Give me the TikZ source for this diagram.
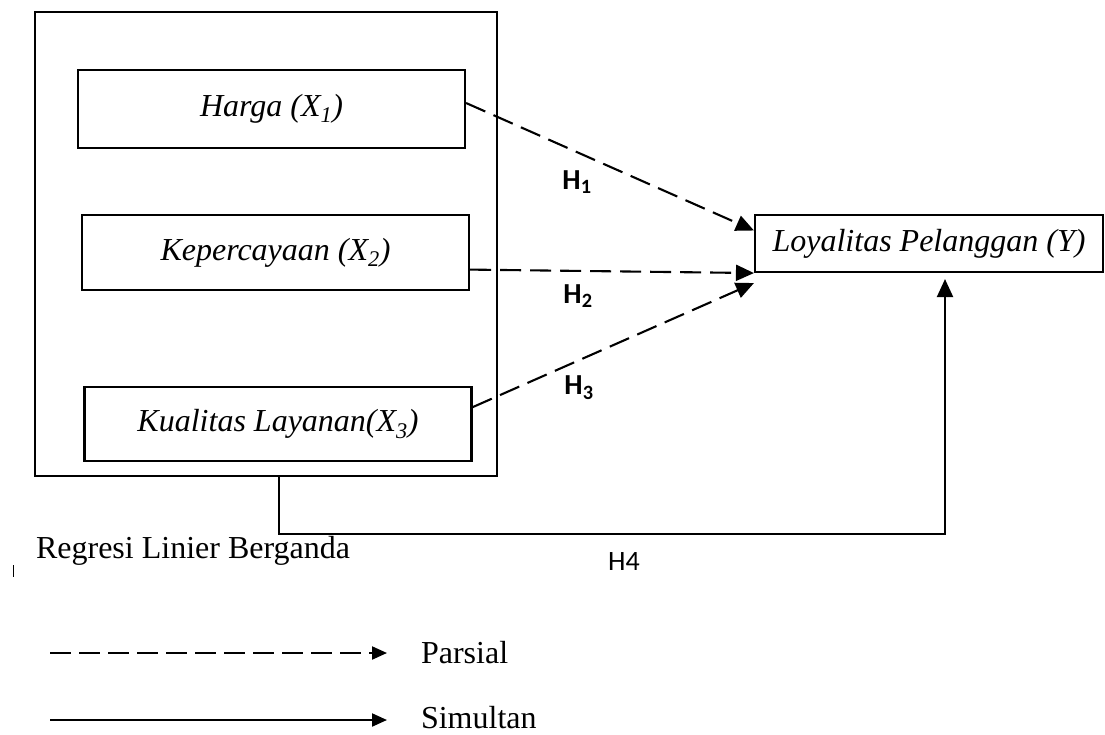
\documentclass[tikz,border=0pt]{standalone}
\usepackage{fontspec}
\setmainfont{Liberation Serif}
\newfontfamily\hfont{Carlito}
\usetikzlibrary{positioning,arrows.meta}

\begin{document}
\begin{tikzpicture}[x=1pt,y=-1pt,line width=2.1pt,
  every node/.style={font=\fontsize{32}{38}\selectfont,inner sep=0pt},
  st/.style={draw,line width=2.1pt,minimum width=387pt,minimum height=76pt,font=\fontsize{32}{38}\selectfont\itshape},
  hl/.style={font=\hfont\bfseries\fontsize{29}{32}\selectfont},
  par/.style={dash pattern=on 21pt off 9pt,-{Triangle[length=18pt,width=16pt]}},
  sim/.style={-{Triangle[length=18pt,width=16pt]}},
  ltip/.style={-{Triangle[length=15pt,width=13pt]}}]
  \useasboundingbox (0,0) rectangle (1105,735);
  % variabel bebas
  \node[draw,minimum width=462pt,minimum height=464pt] (grp) at (266,244) {};
  \node[st,minimum height=78pt] (harga) at (271.5,109) {Harga (X\textsubscript{1})};
  \node[st,below=65pt of harga,xshift=4pt,minimum height=75pt] (kep) {Kepercayaan (X\textsubscript{2})};
  \node[st,below=95pt of kep,xshift=2.5pt,minimum height=74pt] (kual) {Kualitas Layanan(X\textsubscript{3})};
  % variabel terikat
  \node[st,minimum width=348pt,minimum height=57pt] (loy) at (929,243.5) {Loyalitas Pelanggan (Y)};
  % parsial
  \draw[par] ([yshift=6pt]harga.east) -- ([yshift=13pt]loy.west);
  \draw[par] ([yshift=-17pt]kep.east) -- (loy.south west);
  \draw[par] ([yshift=17pt]kual.east) -- ([yshift=-10pt]loy.south west);
  \node[hl] (h1) at (577,182) {H\textsubscript{1}};
  \node[hl] (h2) at (578,296) {H\textsubscript{2}};
  \node[hl] (h3) at (579,388) {H\textsubscript{3}};
  % simultan
  \draw[sim,shorten >=6pt] ([xshift=13pt]grp.south) -- ++(0,57) -| ([xshift=16pt]loy.south);
  \node[font=\hfont\fontsize{28}{32}\selectfont] (h4) at (624,562) {H4};
  \node[anchor=base west] (reg) at (35,558) {Regresi Linier Berganda};
  \draw[line width=0.8pt] (13,565) -- (13,577);
  % keterangan
  \coordinate (p1) at (50,653); \coordinate (p2) at (387,653);
  \coordinate (s1) at (50,720); \coordinate (s2) at (387,720);
  \draw[dash pattern=on 21pt off 8pt,ltip] (p1) -- (p2);
  \draw[ltip] (s1) -- (s2);
  \node[anchor=west] (parsial) at (420,653) {Parsial};
  \node[anchor=west] (simultan) at (420,718) {Simultan};
\end{tikzpicture}
\end{document}
